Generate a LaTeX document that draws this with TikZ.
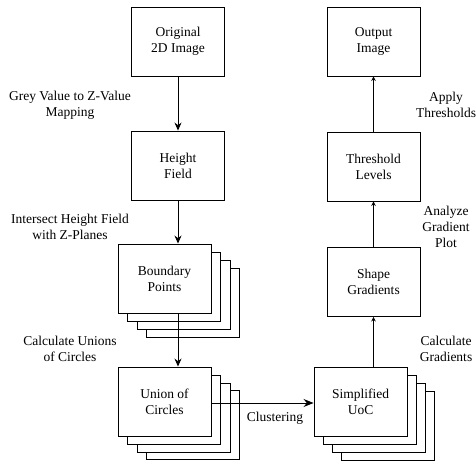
\documentclass[tikz,border=0pt]{standalone}
\usepackage{fontspec}
\setmainfont{Liberation Serif}
\newfontfamily\diagfont{Liberation Serif}
\usetikzlibrary{arrows.meta}
\begin{document}
\begin{tikzpicture}[x=1pt,y=-1pt,
  box/.style={draw, line width=0.9pt, fill=white, minimum width=93pt, minimum height=69pt, inner sep=0pt, align=center, font=\diagfont\fontsize{13.5}{16}\selectfont},
  lbl/.style={align=center, inner sep=0pt, font=\diagfont\fontsize{13.5}{16}\selectfont},
  arrL/.style={line width=0.9pt, -{Stealth[length=8pt,width=7pt]}},
  arrR/.style={line width=0.9pt, -{Stealth[length=4.5pt,width=4.5pt]}},
  arrC/.style={line width=0.9pt, -{Stealth[length=10pt,width=8pt]}}]
\useasboundingbox (0,0) rectangle (476,462);
% left column
\node[box] (orig) at (178,41.5) {Original\\2D Image};
\node[box] (hf) at (178,165.5) {Height\\Field};
\node[box] (bp3) at (192.5,302.5) {};
\node[box] (bp2) at (183.5,294.5) {};
\node[box] (bp1) at (174,286.5) {};
\node[box] (bp) at (164.5,278.5) {Boundary\\Points};
\node[box] (uc3) at (192.5,425) {};
\node[box] (uc2) at (183.5,417.5) {};
\node[box] (uc1) at (174,410) {};
\node[box] (uc) at (164.5,401.5) {Union of\\Circles};
% right column
\node[box] (out) at (373.5,41.5) {Output\\Image};
\node[box] (thr) at (373.5,166.5) {Threshold\\Levels};
\node[box] (sg) at (373.5,282) {Shape\\Gradients};
\node[box] (su3) at (387.5,426) {};
\node[box] (su2) at (378.5,418) {};
\node[box] (su1) at (369.5,410) {};
\node[box] (su) at (360.5,402) {Simplified\\UoC};
% labels
\node[lbl] (l1) at (70,105) {Grey Value to Z-Value\\Mapping};
\node[lbl] (l2) at (70,227) {Intersect Height Field\\with Z-Planes};
\node[lbl] (l3) at (70,349) {Calculate Unions\\of Circles};
\node[lbl] (r1) at (446,105) {Apply\\Thresholds};
\node[lbl] (r2) at (446,226.5) {Analyze\\Gradient\\Plot};
\node[lbl] (r3) at (446,349) {Calculate\\Gradients};
\node[lbl] (cl) at (275,418) {Clustering};
% arrows
\draw[arrL] (orig.south) -- (hf.north);
\draw[arrL] (hf.south) -- (hf.south |- bp.north);
\draw[arrL] (hf.south |- bp.south) -- (hf.south |- uc.north);
\draw[arrC] (uc.east |- 0,403) -- (su.west |- 0,403);
\draw[arrR] (sg.south |- su.north) -- (sg.south);
\draw[arrR] (sg.north) -- (thr.south);
\draw[arrR] (thr.north) -- (out.south);
\end{tikzpicture}
\end{document}
